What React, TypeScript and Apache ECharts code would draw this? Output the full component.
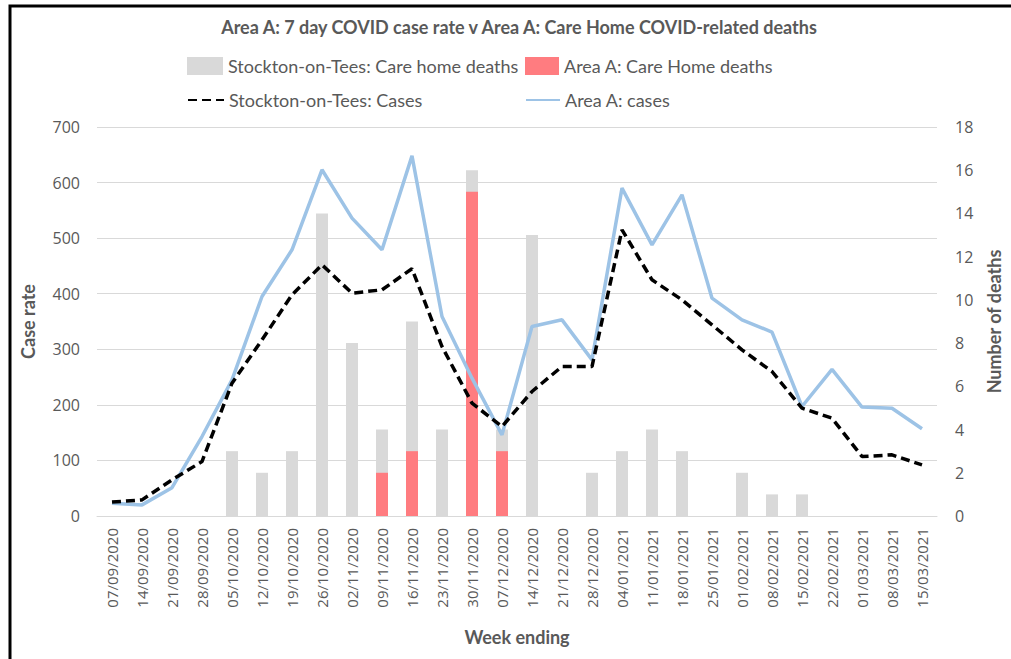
import React, { useEffect, useRef } from "react";
import * as echarts from "echarts";

const weeks = [
  "07/09/2020", "14/09/2020", "21/09/2020", "28/09/2020", "05/10/2020", "12/10/2020", "19/10/2020",
  "26/10/2020", "02/11/2020", "09/11/2020", "16/11/2020", "23/11/2020", "30/11/2020", "07/12/2020",
  "14/12/2020", "21/12/2020", "28/12/2020", "04/01/2021", "11/01/2021", "18/01/2021", "25/01/2021",
  "01/02/2021", "08/02/2021", "15/02/2021", "22/02/2021", "01/03/2021", "08/03/2021", "15/03/2021",
];

const stocktonDeaths = [0, 0, 0, 0, 3, 2, 3, 14, 8, 4, 9, 4, 16, 4, 13, 0, 2, 3, 4, 3, 0, 2, 1, 1, 0, 0, 0, 0];
const areaADeaths = [0, 0, 0, 0, 0, 0, 0, 0, 0, 2, 3, 0, 15, 3, 0, 0, 0, 0, 0, 0, 0, 0, 0, 0, 0, 0, 0, 0];
const stocktonCases = [25, 29, 65, 98, 239, 317, 398, 452, 401, 407, 445, 305, 203, 161, 224, 269, 269, 515, 425, 389, 344, 299, 260, 194, 176, 107, 110, 92];
const areaACases = [23, 20, 51, 143, 245, 395, 479, 623, 536, 479, 648, 359, 248, 146, 341, 353, 281, 590, 488, 578, 392, 353, 331, 197, 264, 196, 194, 157];

const grey = "#595959";
const font = "Open Sans";

export default function App() {
  const ref = useRef<HTMLDivElement>(null);
  useEffect(() => {
    if (!ref.current) return;
    document.documentElement.style.overflow = "hidden";
    document.body.style.margin = "0";
    document.body.style.overflow = "hidden";
    const chart = echarts.init(ref.current, null, { renderer: "svg" });
    const legendText = { color: grey, fontSize: 18, fontFamily: "Lato" };
    chart.setOption({
      animation: false,
      backgroundColor: "#ffffff",
      title: {
        text: "Area A: 7 day COVID case rate v Area A: Care Home COVID-related deaths",
        left: 514,
        top: 13,
        textAlign: "center",
        textStyle: { color: grey, fontSize: 18, fontWeight: "bold", fontFamily: "Lato" },
      },
      legend: [
        { data: ["Stockton-on-Tees: Care home deaths"], left: 182, top: 52, itemWidth: 36, itemHeight: 18, itemGap: 4, textStyle: legendText, icon: "rect" },
        { data: ["Area A: Care Home deaths"], left: 520, top: 52, itemWidth: 34, itemHeight: 18, textStyle: legendText, icon: "rect" },
        { data: ["Stockton-on-Tees: Cases"], left: 182, top: 86, itemWidth: 36, itemHeight: 18, textStyle: legendText, itemStyle: { opacity: 0 } },
        { data: ["Area A: cases"], left: 520, top: 86, itemWidth: 34, itemHeight: 18, textStyle: legendText, itemStyle: { opacity: 0 } },
      ],
      graphic: [
        {
          type: "rect",
          shape: { x: 10, y: 6, width: 1040, height: 700 },
          style: { fill: "none", stroke: "#000", lineWidth: 3 },
          silent: true,
        },
      ],
      grid: { left: 97, right: 69, top: 127, bottom: 143 },
      xAxis: {
        type: "category",
        data: weeks,
        axisLine: { lineStyle: { color: "#d9d9d9" } },
        axisTick: { show: false },
        axisLabel: { rotate: 90, color: grey, fontSize: 15, fontFamily: font, margin: 12, interval: 0 },
        name: "Week ending",
        nameLocation: "middle",
        nameGap: 112,
        nameTextStyle: { color: grey, fontSize: 18, fontWeight: "bold", fontFamily: "Lato" },
      },
      yAxis: [
        {
          type: "value",
          min: 0,
          max: 700,
          interval: 100,
          axisLine: { show: false },
          axisTick: { show: false },
          splitLine: { lineStyle: { color: "#d9d9d9" } },
          axisLabel: { color: grey, fontSize: 16, fontFamily: font, margin: 17 },
          name: "Case rate",
          nameLocation: "middle",
          nameGap: 60,
          nameRotate: 90,
          nameTextStyle: { color: grey, fontSize: 18, fontWeight: "bold", fontFamily: "Lato" },
        },
        {
          type: "value",
          min: 0,
          max: 18,
          interval: 2,
          axisLine: { show: false },
          axisTick: { show: false },
          splitLine: { show: false },
          axisLabel: { color: grey, fontSize: 16, fontFamily: font, margin: 18 },
          name: "Number of deaths",
          nameLocation: "middle",
          nameGap: 48,
          nameRotate: 90,
          nameTextStyle: { color: grey, fontSize: 18, fontWeight: "bold", fontFamily: "Lato" },
        },
      ],
      series: [
        {
          name: "Stockton-on-Tees: Care home deaths",
          type: "bar",
          yAxisIndex: 1,
          data: stocktonDeaths,
          barWidth: 12,
          barGap: "-100%",
          itemStyle: { color: "#d9d9d9" },
        },
        {
          name: "Area A: Care Home deaths",
          type: "bar",
          yAxisIndex: 1,
          data: areaADeaths,
          barWidth: 12,
          barGap: "-100%",
          itemStyle: { color: "#ff7c80" },
        },
        {
          name: "Stockton-on-Tees: Cases",
          type: "line",
          yAxisIndex: 0,
          data: stocktonCases,
          symbol: "none",
          lineStyle: { color: "#000000", width: 3.5, type: [9, 5] },
          itemStyle: { color: "#000000" },
          z: 4,
        },
        {
          name: "Area A: cases",
          type: "line",
          yAxisIndex: 0,
          data: areaACases,
          symbol: "none",
          lineStyle: { color: "#9dc3e6", width: 3.5 },
          itemStyle: { color: "#9dc3e6" },
          z: 3,
        },
      ],
    });
    return () => chart.dispose();
  }, []);
  return (
    <div
      ref={ref}
      style={{ position: "absolute", left: 0, top: 0, width: 1011, height: 659 }}
    />
  );
}
